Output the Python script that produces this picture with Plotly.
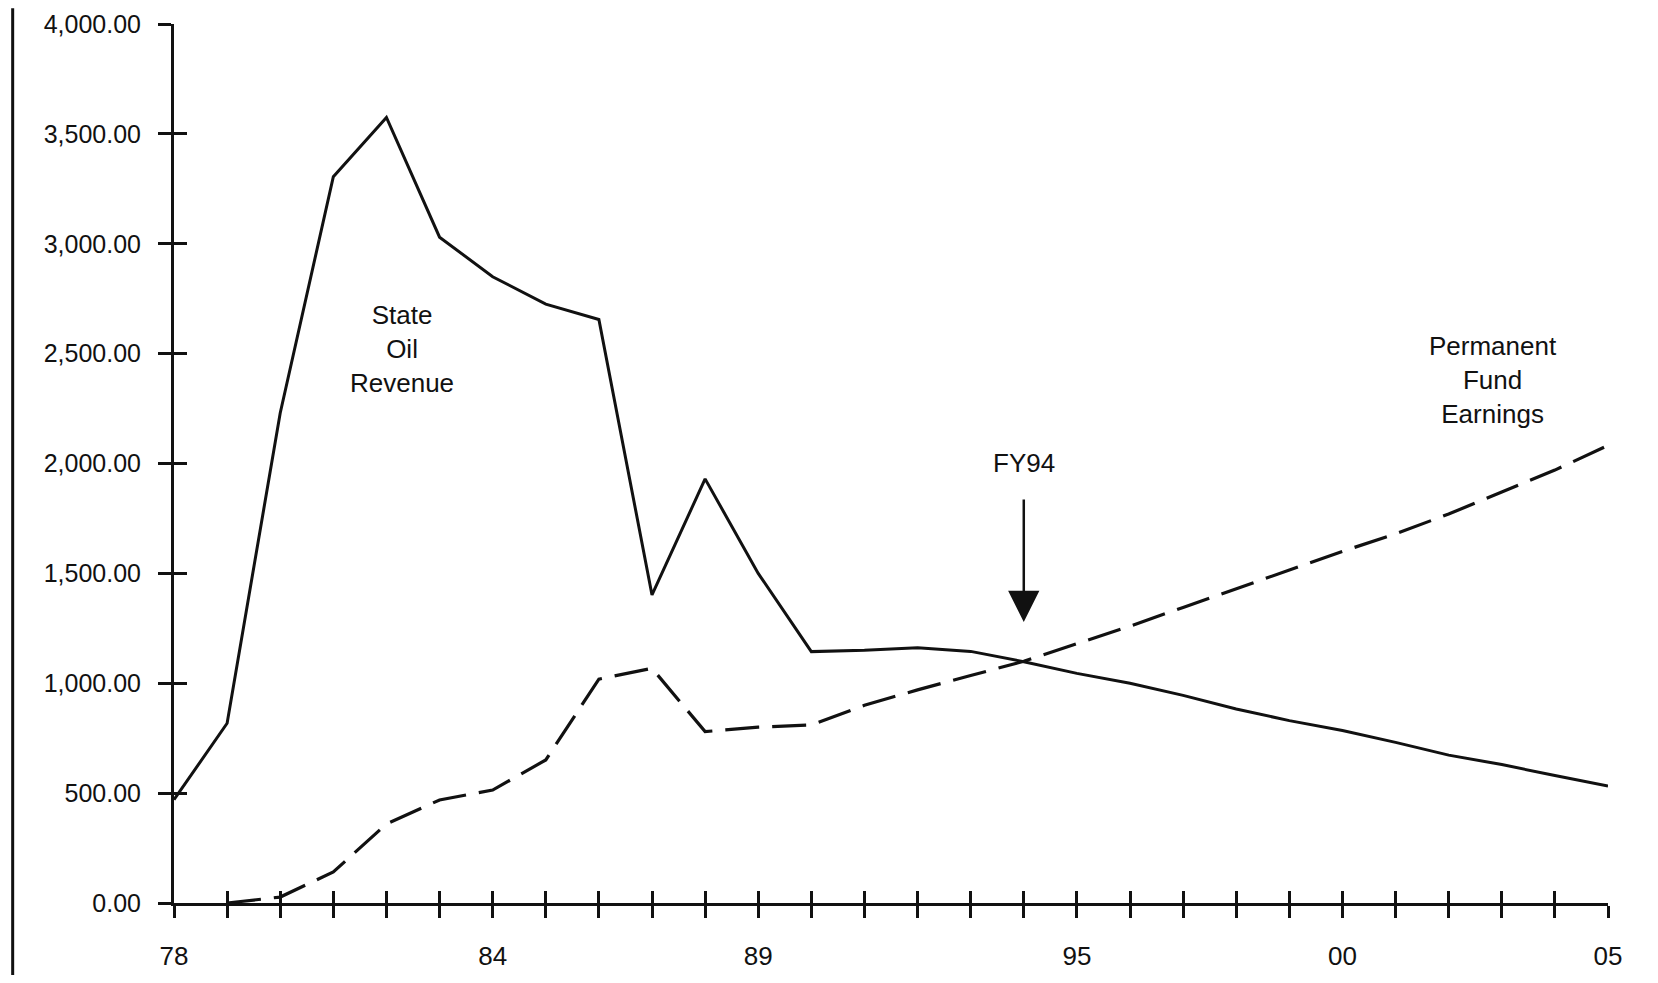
import plotly.graph_objects as go

# ---- data ----
years = list(range(78, 106))  # fiscal years 1978 .. 2005 (two-digit)
state_oil_revenue = [470, 818, 2230, 3305, 3575, 3030, 2850, 2725, 2655, 1402,
                     1930, 1500, 1144, 1150, 1162, 1145, 1098, 1045, 1000, 945,
                     883, 830, 785, 731, 673, 630, 580, 532]
fund_years = list(range(79, 106))
permanent_fund_earnings = [0, 27, 141, 360, 469, 514, 651, 1019, 1068, 780,
                           800, 810, 900, 970, 1035, 1100, 1180, 1260, 1345, 1430,
                           1515, 1600, 1680, 1770, 1870, 1970, 2082]
x_tick_years = years
x_tick_text = {78: "78", 84: "84", 89: "89", 95: "95", 100: "00", 105: "05"}
y_tick_vals = [0, 500, 1000, 1500, 2000, 2500, 3000, 3500, 4000]

FONT = "Liberation Sans, Arial, sans-serif"
INK = "#111111"

fig = go.Figure()
fig.add_trace(go.Scatter(x=years, y=state_oil_revenue, mode="lines",
                         line=dict(color=INK, width=3), showlegend=False,
                         hoverinfo="skip"))
fig.add_trace(go.Scatter(x=fund_years, y=permanent_fund_earnings, mode="lines",
                         line=dict(color=INK, width=3.2, dash="34px,13px"),
                         showlegend=False, hoverinfo="skip"))
# helper trace so the overlay axes (inner half of crossing ticks) are drawn
fig.add_trace(go.Scatter(x=[78], y=[0], xaxis="x2", yaxis="y2", mode="markers",
                         marker=dict(opacity=0), showlegend=False, hoverinfo="skip"))

ticktext = [x_tick_text.get(y, "") for y in x_tick_years]

common_x = dict(range=[78, 105], tickmode="array", tickvals=x_tick_years,
                showgrid=False, zeroline=False, ticklen=12, tickwidth=2.5,
                tickcolor=INK, automargin=False)
common_y = dict(range=[0, 4000], tickmode="array", tickvals=y_tick_vals,
                showgrid=False, zeroline=False, ticklen=13, tickwidth=2.5,
                tickcolor=INK, automargin=False)

fig.update_layout(
    width=1642, height=967, autosize=False,
    margin=dict(l=166, r=42, t=16, b=72, pad=0),
    paper_bgcolor="white", plot_bgcolor="white",
    font=dict(family=FONT, size=26, color=INK),
    xaxis=dict(**common_x, ticktext=ticktext, ticks="outside",
               showline=True, linecolor=INK, linewidth=3,
               tickfont=dict(family=FONT, size=26, color=INK),
               ticklabelstandoff=16),
    yaxis=dict(**common_y, ticks="outside", tickformat=",.2f",
               showline=True, linecolor=INK, linewidth=3,
               tickfont=dict(family=FONT, size=25, color=INK),
               ticklabelstandoff=12),
    xaxis2=dict(**common_x, overlaying="x", anchor="y2", side="bottom",
                ticks="inside", showticklabels=False, showline=False),
    yaxis2=dict(**common_y, overlaying="y", anchor="x2", side="left",
                ticks="inside", showticklabels=False, showline=False),
)

# series labels
fig.add_annotation(x=82.3, y=2520, text="State<br>Oil<br>Revenue", showarrow=False,
                   font=dict(family=FONT, size=26, color=INK), align="center")
fig.add_annotation(x=102.83, y=2380, text="Permanent<br>Fund<br>Earnings",
                   showarrow=False, font=dict(family=FONT, size=26, color=INK),
                   align="center")
# FY94 marker
fig.add_annotation(x=94, y=2002, text="FY94", showarrow=False,
                   font=dict(family=FONT, size=26, color=INK))
fig.add_annotation(x=94, y=1279, text="", showarrow=True, ax=0, ay=-124,
                   arrowhead=2, arrowsize=2.5, arrowwidth=2.5, arrowcolor=INK)

# scan frame edge on the left
fig.add_shape(type="line", xref="paper", yref="paper", x0=-0.1125, x1=-0.1125,
              y0=-0.082, y1=1.018, line=dict(color=INK, width=3))

fig.write_html("out.html")
